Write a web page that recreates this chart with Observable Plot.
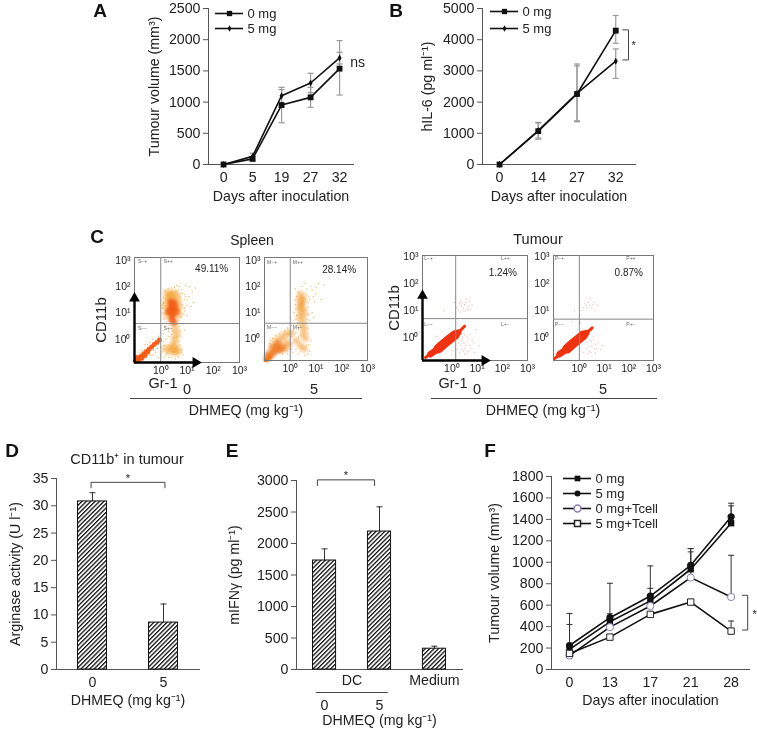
<!DOCTYPE html>
<html><head><meta charset="utf-8">
<script src="https://cdn.jsdelivr.net/npm/d3@7"></script>
<script src="https://cdn.jsdelivr.net/npm/@observablehq/plot@0.6"></script>
<style>
html,body{margin:0;padding:0;background:#fff}
#fig{position:relative;width:757px;height:729px;overflow:hidden;font-family:"Liberation Sans",Arial,sans-serif;color:#222;filter:blur(.45px)}
#fig svg{position:absolute;overflow:visible}
.t{position:absolute;white-space:nowrap;transform:translate(-50%,-50%);line-height:1}
.hr{position:absolute;height:1px;background:#444}
</style></head><body>
<svg width="0" height="0" style="position:absolute"><defs>
<pattern id="hatch" width="3.1" height="3.1" patternUnits="userSpaceOnUse" patternTransform="rotate(45)">
<rect width="3.1" height="3.1" fill="#fff"/><line x1="0" y1="0" x2="0" y2="3.1" stroke="#111" stroke-width="2.6"/></pattern>
</defs></svg>
<div id="fig"></div>
<script>
// ---------- Panel A
const daysA=["0","5","19","27","32"];
const a0=[0,90,953,1076,1536], a0lo=[0,60,669,916,1113], a0hi=[0,130,1237,1236,1986];
const a5=[0,130,1103,1306,1708], a5lo=[0,85,969,1151,1611], a5hi=[0,180,1200,1461,1799];
// ---------- Panel B
const daysB=["0","14","27","32"];
const b0=[0,1070,2260,4290], b0lo=[0,810,1370,3886], b0hi=[0,1350,3220,4775];
const b5=[0,1090,2280,3310], b5lo=[0,850,1400,2762], b5hi=[0,1330,3160,3704];
// ---------- Panel D
const doseD=["0","5"]; const arg=[30.8,8.6], argHi=[32.4,12];
// ---------- Panel E
const ifn=[1730,2190,330], ifnHi=[1915,2582,370];
const doseE=["0","5"]; const groupE=["DC","Medium"];
// ---------- Panel F
const daysF=["0","13","17","21","28"];
const f0=[187,445,640,935,1364], f0hi=[420,520,966,1097,1526];
const f5=[224,483,685,972,1424], f5hi=[523,804,757,1128,1551];
const f0T=[130,395,592,857,676], f0Thi=[150,420,620,1128,1065];
const f5T=[150,302,514,629,358], f5Thi=[170,320,535,650,452];
// ---------- Panel C (log10 Gr-1, log10 CD11b)
const spleen0Dense=[[.40,1.0],[.45,.9],[.5,1.1],[.35,1.15],[.45,1.2],[.55,1.25],[.4,1.3],[.5,1.4],[.3,1.05],[.6,1.05],[.42,.75],[.5,.65],[.38,1.42]];
const spleen0Streak=[[-.97,-.84],[-.9,-.78],[-.82,-.72],[-.75,-.65],[-.65,-.55],[-.55,-.47],[-.45,-.38],[-.35,-.3],[-.25,-.2],[-.15,-.12],[-.05,-.03],[-.9,-.7],[-.72,-.72],[-.6,-.62],[-.85,-.8],[-.5,-.5]];
const spleen0Mid=[[.25,1.75],[.35,1.7],[.5,1.75],[.6,1.65],[.3,1.6],[.45,1.55],[.65,1.45],[.2,1.4],[.7,1.2],[.2,1.2],[.65,.9],[.25,.9],[.55,.4],[.6,.2],[.55,0],[.5,-.2],[.35,-.45],[.5,-.45],[.65,-.4],[.2,-.35],[.45,-.3],[.6,-.5]];
const spleen0Light=[[-.5,-.2],[-.3,0],[-.6,-.4],[-.2,-.5],[0,-.3],[.1,-.1],[.1,.2],[.2,-.6],[0,-.6],[-.3,-.6],[.8,1.9],[.9,1.7],[1,1.5],[1.1,2],[.7,2],[.4,1.95],[.1,1.6],[.9,1.2],[1,.9],[.85,.6],[.75,.3],[.8,-.4],[.85,-.6],[.9,1.5],[.15,.5],[.3,.3],[.35,.1],[.2,0],[.7,-.1],[1.2,1.8],[1.25,1.4],[.05,1.3],[.05,1],[.8,1],[.75,1.6],[.6,2.05],[.3,-.7],[.55,-.75],[.1,-.4],[.15,-.7],[-.1,-.7],
[.15,1.85],[.28,1.92],[.52,1.98],[.68,1.88],[.82,1.75],[.95,1.62],[.72,1.72],[.58,1.82],[.42,1.82],[.18,1.55],[.12,1.38],[.08,1.18],[.14,.98],[.12,.78],[.22,.62],[.32,.52],[.68,.72],[.78,.85],[.88,.95],[.92,1.08],[.82,1.32],[.72,1.42],[.98,1.3],[1.08,1.62],[1.15,1.25],[.62,.55],[.7,.48],[.45,.32],[.42,.18],[.28,.12],[.48,.05],[.62,.08],[.72,-.22],[.62,-.28],[.78,-.52],[.68,-.68],[.42,-.68],[.25,-.52],[.38,-.25],[.28,-.22],[.12,-.25],[.02,-.05],[-.08,.12],[-.18,-.22],[-.28,-.42],[-.42,-.12],[-.5,-.55],[-.38,-.62],[-.12,-.35],[.05,-.48],[-.72,-.42],[-.82,-.52],[-.6,-.2],[1.32,1.95],[.95,2.05],[.75,.12],[.9,.35]];
const spleen5Dense=[[-.9,-.78],[-.8,-.7],[-.7,-.6],[-.6,-.5],[-.7,-.35],[-.55,-.3],[-.45,-.2],[-.4,-.45],[-.3,-.35],[-.85,-.62],[-.5,-.42]];
const spleen5Streak=[[-.95,-.84],[-.88,-.8],[-.8,-.74]];
const spleen5Mid=[[-.6,-.1],[-.4,0],[-.25,.1],[-.15,-.15],[-.1,.2],[-.2,-.4],[-.05,-.25],[.05,.2],[.4,1.7],[.35,1.5],[.5,1.55],[.45,1.35],[.35,1.2],[.5,1.15],[.4,1],[.55,.95],[.35,.8],[.5,.7],[.45,.5],[.55,.35],[.5,.15],[.6,0],[.25,-.1],[.4,-.3],[.55,-.4],[.42,1.25],[.48,1.45]];
const spleen5Light=[[.2,1.9],[.45,2],[.65,1.9],[.85,1.85],[1,1.7],[1.1,2.1],[.75,1.5],[.7,1.2],[.2,1.3],[.15,1],[.85,1],[.75,.7],[.25,.5],[.05,.5],[-.1,.4],[-.35,.25],[-.55,.1],[-.8,-.2],[-.9,-.45],[.7,.2],[.8,-.1],[.75,-.5],[.3,-.6],[.1,-.55],[-.1,-.6],[.55,-.65],[1.2,1.5],[.95,1.4],[1.3,2.05],
[.3,1.78],[.25,1.62],[.18,1.48],[.62,1.72],[.72,1.62],[.68,1.38],[.62,1.08],[.7,.92],[.65,.72],[.22,1.12],[.25,.88],[.22,.72],[.3,.62],[.62,.55],[.68,.4],[.32,.35],[.22,.22],[.12,.32],[.05,.05],[.15,-.05],[.32,.05],[.72,-.25],[.62,-.3],[.38,-.52],[.22,-.42],[.05,-.42],[-.12,-.48],[-.3,-.6],[-.22,.28],[-.42,.18],[-.68,0],[-.78,-.08],[.9,1.6],[1.02,1.95],[.8,2.02],[.58,2.12],[-.02,-.02],[.02,-.18],[.68,-.62],[.92,.8]];
const tumour0Core=[[-.55,-.42],[-.3,-.22],[-.05,-.03],[.12,.09]];
const tumour0Body=[[-.85,-.62],[-.55,-.42],[-.2,-.14],[.25,.18]];
const tumour0Tail=[[-1.05,-.74],[-.6,-.44],[0,0],[.3,.22],[.5,.42]];
const tumour0Light=[[.2,1.1],[.3,1.25],[.45,1.1],[.55,1.3],[.65,1.15],[.4,1.4],[.7,1.35],[.35,.95],[.8,1.2],[.1,1.3],[.55,1],[.25,-.2],[.4,-.1],[.55,-.3],[.65,-.05],[.75,-.4],[.45,-.5],[.3,-.55],[.6,.05],[.85,-.2],[.9,-.55],[.15,-.6],[.5,.1],[-.1,.7],[-.3,1],[.95,.3],[1.1,-.3],[.6,-.6],[.2,-.45],
[.25,1.02],[.38,1.18],[.5,1.22],[.62,1.05],[.33,1.32],[.48,.98],[.72,1.05],[.42,1.28],[.58,1.42],[.15,1.15],[.35,-.3],[.48,-.22],[.6,-.18],[.7,-.28],[.38,-.42],[.52,-.42],[.65,-.52],[.8,-.1],[.42,.02],[.72,.12],[.28,-.08],[.5,-.62],[-.4,.2],[-.6,.05],[.05,-.5],[.0,-.65]];
const tumour5Core=[[-.5,-.42],[-.25,-.22],[0,-.03],[.15,.08]];
const tumour5Body=[[-.8,-.62],[-.5,-.42],[-.15,-.14],[.28,.16]];
const tumour5Tail=[[-1,-.78],[-.55,-.46],[.05,0],[.33,.2],[.52,.36]];
const tumour5Light=[[.2,1.25],[.35,1.3],[.5,1.1],[.6,1.3],[.3,1.1],[.1,1],[.75,1.2],[-.2,1],[.45,1.45],[.3,-.2],[.5,-.15],[.6,-.4],[.75,-.2],[.4,-.5],[.25,-.05],[.85,-.45],[.55,.05],[.95,-.3],[.15,-.55],[.35,-.6],
[.28,1.2],[.42,1.18],[.55,1.22],[.15,1.12],[.62,1.02],[.38,-.32],[.5,-.32],[.65,-.25],[.7,-.42],[.42,-.1],[.58,-.08],[.3,-.42],[.48,-.55],[.65,-.58],[.35,.02],[-.3,.6],[.05,.55]];

const fig=document.getElementById("fig");
const INK="#222", AX="#555";
const font={background:"transparent",fontFamily:'"Liberation Sans",Arial,sans-serif',fontSize:"14.2px",color:INK};

function place(f,opts,pad=[70,30,14,50]){ // f: frame [left,right,top,bottom] in page pixels
  const [mL,mR,mT,mB]=pad;
  const p=Plot.plot({width:f[1]-f[0]+mL+mR,height:f[3]-f[2]+mT+mB,marginLeft:mL,marginRight:mR,marginTop:mT,marginBottom:mB,style:font,...opts});
  p.style.left=(f[0]-mL)+"px";p.style.top=(f[2]-mT)+"px";fig.appendChild(p);return p;
}
const cap={draw(c,size){const w=Math.sqrt(size/Math.PI);c.moveTo(-w,0);c.lineTo(w,0);}};
function label(text,x,y,css={}){const d=document.createElement("div");d.className="t";d.textContent=text;d.style.left=x+"px";d.style.top=y+"px";Object.assign(d.style,{fontSize:"13px"},css);fig.appendChild(d);return d;}
function hr(x1,x2,y){const d=document.createElement("div");d.className="hr";Object.assign(d.style,{left:x1+"px",width:(x2-x1)+"px",top:y+"px"});fig.appendChild(d);}

const rows=(v,lo,hi)=>v.map((y,i)=>({i,y,lo:lo?lo[i]:y,hi:hi[i]}));
function errs(r,stroke,sw,capR,up=false){
  return [
    Plot.ruleX(r,{x:"i",y1:"lo",y2:"hi",stroke,strokeWidth:sw}),
    Plot.dot(r,{x:"i",y:"hi",symbol:cap,r:capR,fill:"none",stroke,strokeWidth:sw}),
    ...(up?[]:[Plot.dot(r,{x:"i",y:"lo",symbol:cap,r:capR,fill:"none",stroke,strokeWidth:sw})])
  ];
}
const axes=(xticks,xfmt,xlabel,ylabel,yticks,yOff,xOff=36)=>[
  Plot.axisY({ticks:yticks,tickSize:5,tickPadding:3,label:ylabel,labelAnchor:"center",labelArrow:"none",labelOffset:yOff,stroke:AX,tickFormat:String}),
  Plot.axisX({ticks:xticks,tickFormat:xfmt,tickSize:0,tickPadding:7,label:xlabel,labelAnchor:"center",labelArrow:"none",labelOffset:xOff,stroke:AX}),
  Plot.frame({anchor:"left",stroke:AX}),Plot.frame({anchor:"bottom",stroke:AX})
];
const line=(r,extra={})=>Plot.line(r,{x:"i",y:"y",stroke:"#111",strokeWidth:1.6,...extra});
const sq=(r,R=3.3)=>Plot.dot(r,{x:"i",y:"y",symbol:"square",r:R,fill:"#111"});
const dm=(r,R=2.1)=>Plot.dot(r,{x:"i",y:"y",symbol:"diamond",r:R,fill:"#111"});
const bracket=(pts,stroke="#444")=>Plot.line(pts,{x:"x",y:"y",stroke,strokeWidth:1});

function legend(f,names,draw,fs=13){
  const y=names;
  place(f,{x:{domain:[0,1],axis:null},y:{type:"point",domain:y,padding:0,axis:null},marks:[
    Plot.ruleY(y,{y:d=>d,x1:0,x2:1,stroke:"#111",strokeWidth:1.6}),
    ...draw(y),
    Plot.text(y,{y:d=>d,x:()=>1,text:d=>d,dx:4,textAnchor:"start",fontSize:fs})
  ]},[2,80,8,8]);
}
const legendDot=(n,symbol,R,fill,stroke)=>Plot.dot([n],{y:d=>d,x:()=>.5,symbol,r:R,fill,stroke});

// Panel A
{const R0=rows(a0,a0lo,a0hi),R5=rows(a5,a5lo,a5hi);
place([208,353,8,164],{x:{domain:[-.52,4.48],axis:null},y:{domain:[0,2500],axis:null},marks:[
  ...axes(d3.range(daysA.length),i=>daysA[i],"Days after inoculation","Tumour volume (mm³)",[0,500,1000,1500,2000,2500],60),
  ...errs(R0,"#999",1.2,3),...errs(R5,"#999",1.2,3),
  line(R0),line(R5),sq(R0),dm(R5),
  Plot.text(["ns"],{x:()=>4.62,y:()=>1640,text:d=>d,fontSize:14})
]});
legend([215,243,13,28],["0 mg","5 mg"],y=>[legendDot(y[0],"square",3,"#111"),legendDot(y[1],"diamond",2,"#111")]);
}
// Panel B
{const R0=rows(b0,b0lo,b0hi),R5=rows(b5,b5lo,b5hi);
place([482,635,8,164],{x:{domain:[-.44,3.51],axis:null},y:{domain:[0,5000],axis:null},marks:[
  ...axes(d3.range(daysB.length),i=>daysB[i],"Days after inoculation","hIL-6 (pg ml⁻¹)",[0,1000,2000,3000,4000,5000],61),
  ...errs(R0,"#999",1.2,3),...errs(R5,"#999",1.2,3),
  line(R0),line(R5),sq(R0),dm(R5),
  bracket([{x:3.18,y:4315},{x:3.33,y:4315},{x:3.33,y:3351},{x:3.18,y:3351}]),
  Plot.text(["*"],{x:()=>3.46,y:()=>3800,text:d=>d,fontSize:11})
]});
legend([490,518,11,28],["0 mg","5 mg"],y=>[legendDot(y[0],"square",3,"#111"),legendDot(y[1],"diamond",2,"#111")]);
}
// Panel C
function flow(f,xd,yd,gate,xt,yt,cols,clouds,quad,quadNames,pct,arrows){
  const pts=(arr,r,fill,op,blur)=>Plot.dot(arr,{x:d=>10**d[0],y:d=>10**d[1],r,fill,fillOpacity:op,imageFilter:blur?`blur(${blur}px)`:undefined});
  const path=(arr,w,stroke)=>Plot.line(arr,{x:d=>10**d[0],y:d=>10**d[1],stroke,strokeWidth:w,strokeLinecap:"round",imageFilter:"blur(.7px)"});
  const sup=d=>"10"+({1:"⁰",10:"¹",100:"²",1000:"³"})[d];
  const q=[[0,0],[1,0],[0,1],[1,1]].map(([a,b],k)=>({x:10**quad[0][a],y:10**quad[1][b],t:quadNames[k]}));
  const arrowMarks=arrows?[
    Plot.ruleX([xd[0]],{y1:yd[0],y2:10**arrows[1],stroke:"#000",strokeWidth:2.4}),
    Plot.ruleY([yd[0]],{x1:xd[0],x2:10**arrows[0],stroke:"#000",strokeWidth:2.4}),
    Plot.dot([0],{x:()=>xd[0],y:()=>10**arrows[1],symbol:"triangle",r:4,fill:"#000"}),
    Plot.dot([0],{x:()=>10**arrows[0],y:()=>yd[0],symbol:"triangle",r:4,fill:"#000",rotate:90})
  ]:[];
  const cloudMarks=cols.solid?[
    pts(clouds[2],cols.lightR,cols.light,.85),
    path(clouds[3],3,cols.dense),path(clouds[1],6.5,cols.dense),path(clouds[0],9.5,cols.dense)
  ]:[
    pts(clouds[1],cols.midR,cols.mid,cols.midOp,1.6),
    pts(clouds[0],cols.denseR,cols.dense,cols.denseOp,cols.denseBlur),
    pts(clouds[3],cols.streakR,cols.dense,.95,.5),
    pts(clouds[2],cols.lightR,cols.light,.85)
  ];
  place(f,{x:{type:"log",domain:xd,axis:null},y:{type:"log",domain:yd,axis:null},marks:[
    ...cloudMarks,
    Plot.frame({stroke:"#777"}),
    Plot.ruleX([10**gate[0]],{stroke:"#888"}),Plot.ruleY([10**gate[1]],{stroke:"#888"}),
    Plot.axisX({ticks:xt,tickFormat:sup,tickSize:0,tickPadding:4,fontSize:10.5,label:null,stroke:INK}),
    Plot.axisY({ticks:yt,tickFormat:sup,tickSize:0,tickPadding:4,fontSize:10.5,label:null,stroke:INK}),
    Plot.text(q,{x:"x",y:"y",text:"t",textAnchor:"start",fontSize:5,fill:"#666"}),
    Plot.text([pct],{x:()=>10**pct.x,y:()=>10**pct.y,text:d=>d.t,fontSize:10}),
    ...arrowMarks
  ]},[20,14,4,20]);
}
const decades=[1,10,100,1000];
const orange={dense:"#f25c14",mid:"#f3a02e",light:"#eba93c",midR:4,midOp:.5,denseR:3.6,denseOp:.75,denseBlur:1.2,streakR:2.5,lightR:.7};
const orange5={dense:"#ee7a20",mid:"#f29d36",light:"#ebae50",midR:3.6,midOp:.52,denseR:3.8,denseOp:.65,denseBlur:1.2,streakR:2,lightR:.7};
const red={solid:true,dense:"#ee3312",light:"#e9a48f",lightR:.6};
flow([134,239,257,362],[.1,1000],[.13,1300],[0,.6],decades,decades,orange,[spleen0Dense,spleen0Mid,spleen0Light,spleen0Streak],[[-.87,.11],[2.97,.42]],["S−+","S++","S−−","S+−"],{x:1.94,y:2.7,t:"49.11%"},[1.33,1.56]);
flow([264,367,257,360],[.1,1000],[.14,1300],[0,.58],decades,decades,orange5,[spleen5Dense,spleen5Mid,spleen5Light,spleen5Streak],[[-.9,.1],[2.92,.42]],["M−+","M++","M−−","M+−"],{x:1.9,y:2.65,t:"28.14%"},null);
flow([422,527,255,360],[.068,1000],[.14,1100],[.15,.7],decades,decades,red,[tumour0Core,tumour0Body,tumour0Light,tumour0Tail],[[-1.1,1.95],[2.95,.5]],["L−+","L++","L−−","L+−"],{x:2.02,y:2.4,t:"1.24%"},[1.3,1.55]);
flow([553,653,255,360],[.09,1000],[.14,1100],[0,.68],decades,decades,red,[tumour5Core,tumour5Body,tumour5Light,tumour5Tail],[[-1,1.9],[2.95,.5]],["P−+","P++","P−−","P+−"],{x:2,y:2.4,t:"0.87%"},null);
label("Spleen",252,240,{fontSize:"14px"});label("Tumour",538,239,{fontSize:"14.5px"});
label("CD11b",100,320,{fontSize:"15px",transform:"translate(-50%,-50%) rotate(-90deg)"});
label("CD11b",393,308,{fontSize:"15px",transform:"translate(-50%,-50%) rotate(-90deg)"});
label("Gr-1",163,383,{fontSize:"14.5px"});label("Gr-1",453,383,{fontSize:"14.5px"});
label("0",187,389,{fontSize:"14.5px"});label("5",314,389,{fontSize:"14.5px"});label("0",477,389,{fontSize:"14.5px"});label("5",603,389,{fontSize:"14.5px"});
hr(130,362,398);hr(431,657,398);
label("DHMEQ (mg kg⁻¹)",246,410,{fontSize:"14.2px"});label("DHMEQ (mg kg⁻¹)",543,410,{fontSize:"14.2px"});
// Panel D
{const R=rows(arg,arg,argHi);
place([56,199,478,669],{x:{domain:[-.507,1.507],axis:null},y:{domain:[0,35],axis:null},marks:[
  ...axes(d3.range(doseD.length),i=>doseD[i],"DHMEQ (mg kg⁻¹)","Arginase activity (U l⁻¹)",d3.range(0,36,5),47,35),
  ...errs(R,"#333",1,3,true),
  Plot.rectY(R,{x1:d=>d.i-.204,x2:d=>d.i+.204,y:"y",fill:"url(#hatch)",stroke:"#111",strokeWidth:1}),
  bracket([{x:-.02,y:33.3},{x:-.02,y:34.3},{x:1.02,y:34.3},{x:1.02,y:33.3}]),
  Plot.text(["*"],{x:()=>.5,y:()=>35,text:d=>d,fontSize:11})
]},[56,10,14,50]);
label("CD11b⁺ in tumour",127,459,{fontSize:"14.5px"});
}
// Panel E
{const R=rows(ifn,ifn,ifnHi);
place([296,462,480,669],{x:{domain:[-.51,2.51],axis:null},y:{domain:[0,3000],axis:null},marks:[
  Plot.axisY({ticks:d3.range(0,3001,500),tickFormat:String,tickSize:5,tickPadding:3,label:"mIFNγ (pg ml⁻¹)",labelAnchor:"center",labelArrow:"none",labelOffset:68,stroke:AX}),
  Plot.axisX({ticks:[.5,2],tickFormat:d=>d===2?groupE[1]:groupE[0],tickSize:0,tickPadding:5,label:null,stroke:AX}),
  Plot.axisX({ticks:[0,1],tickFormat:i=>doseE[i],tickSize:0,tickPadding:30,label:"DHMEQ (mg kg⁻¹)",labelAnchor:"center",labelArrow:"none",labelOffset:55,stroke:AX}),
  Plot.frame({anchor:"left",stroke:AX}),Plot.frame({anchor:"bottom",stroke:AX}),
  ...errs(R,"#333",1,3,true),
  Plot.rectY(R,{x1:d=>d.i-.21,x2:d=>d.i+.21,y:"y",fill:"url(#hatch)",stroke:"#111",strokeWidth:1}),
  bracket([{x:-.13,y:2920},{x:-.13,y:3010},{x:.91,y:3010},{x:.91,y:2920}]),
  Plot.text(["*"],{x:()=>.39,y:()=>3080,text:d=>d,fontSize:11}),
  Plot.ruleY([0],{x1:()=>-.15,x2:()=>1.16,dy:23,stroke:"#444"})
]},[66,10,14,56]);
}
// Panel F
{const R0=rows(f0,f0,f0hi),R5=rows(f5,f5,f5hi),T0=rows(f0T,f0T,f0Thi),T5=rows(f5T,f5T,f5Thi);
place([551,749,476,669],{x:{domain:[-.446,4.455],axis:null},y:{domain:[0,1800],axis:null},marks:[
  ...axes(d3.range(daysF.length),i=>daysF[i],"Days after inoculation","Tumour volume (mm³)",d3.range(0,1801,200),63,35),
  ...errs(R0,"#333",1,3,true),...errs(R5,"#333",1,3,true),...errs(T0,"#333",1,3,true),...errs(T5,"#333",1,3,true),
  line(T0),line(T5),line(R0),line(R5),
  sq(R0,3.6),Plot.dot(R5,{x:"i",y:"y",r:3.6,fill:"#111"}),
  Plot.dot(T0,{x:"i",y:"y",r:3.6,fill:"#fff",stroke:"#8a7fb5",strokeWidth:1}),
  Plot.dot(T5,{x:"i",y:"y",symbol:"square",r:3.6,fill:"#fff",stroke:"#222",strokeWidth:1}),
  bracket([{x:4.28,y:692},{x:4.41,y:692},{x:4.41,y:368},{x:4.28,y:368}]),
  Plot.text(["*"],{x:()=>4.58,y:()=>510,text:d=>d,fontSize:11})
]},[66,8,14,50]);
legend([563,591,478,523],["0 mg","5 mg","0 mg+Tcell","5 mg+Tcell"],y=>[
  legendDot(y[0],"square",3.2,"#111"),legendDot(y[1],"circle",3,"#111"),
  legendDot(y[2],"circle",3.4,"#fff","#8a7fb5"),legendDot(y[3],"square",3.4,"#fff","#222")]);
}
// Panel letters
[["A",100,10],["B",396,10],["C",97,236],["D",12,450],["E",232,450],["F",490,450]].forEach(([t,x,y])=>label(t,x,y,{fontSize:"19px",fontWeight:"700",color:"#111"}));
</script>
</body></html>
